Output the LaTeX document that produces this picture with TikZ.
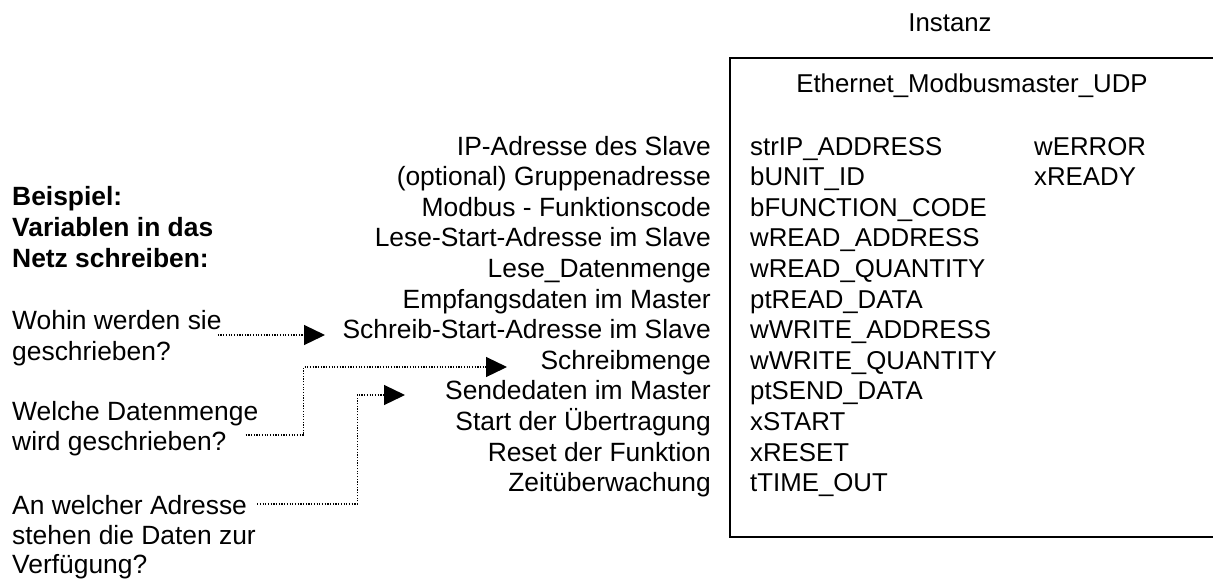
\documentclass[tikz,border=0pt]{standalone}
\usepackage{fontspec}
\setmainfont{Liberation Sans}
\usetikzlibrary{arrows.meta}
\tikzset{
  txt/.style={anchor=base west, inner sep=0pt, font=\fontsize{26.4}{30}\selectfont},
  var/.style={anchor=base west, inner sep=0pt, font=\fontsize{25.8}{30}\selectfont},
  lbl/.style={txt, anchor=base east},
  bold/.style={txt, font=\fontsize{26.4}{30}\selectfont\bfseries},
  hint/.style={line width=1.2pt, dash pattern=on 1.2pt off 1.5pt,
    -{Triangle[length=21pt,width=20pt]}}
}

\begin{document}
\begin{tikzpicture}[x=1pt,y=-1pt]
  \useasboundingbox (0,0) rectangle (1213,579);

  % Baustein
  \node [var, anchor=base] (inst) at (950,31) {Instanz};
  \draw [line width=1.8pt] (730,58) rectangle (1218,537);
  \node [var, anchor=base] (fb) at (972,92) {Ethernet\_Modbusmaster\_UDP};

  % Eingaenge
  \node [var] (v0) at (750,155) {strIP\_ADDRESS};
  \node [var] (v1) at (750,185.6) {bUNIT\_ID};
  \node [var] (v2) at (750,216.2) {bFUNCTION\_CODE};
  \node [var] (v3) at (750,246.8) {wREAD\_ADDRESS};
  \node [var] (v4) at (750,277.4) {wREAD\_QUANTITY};
  \node [var] (v5) at (750,308) {ptREAD\_DATA};
  \node [var] (v6) at (750,338.6) {wWRITE\_ADDRESS};
  \node [var] (v7) at (750,369.2) {wWRITE\_QUANTITY};
  \node [var] (v8) at (750,399.8) {ptSEND\_DATA};
  \node [var] (v9) at (750,430.4) {xSTART};
  \node [var] (v10) at (750,461) {xRESET};
  \node [var] (v11) at (750,491.6) {tTIME\_OUT};

  % Ausgaenge
  \node [var] (o0) at (1034,155) {wERROR};
  \node [var] (o1) at (1034,185.6) {xREADY};

  % Beschreibung
  \node [lbl] (l0) at (711,155) {IP-Adresse des Slave};
  \node [lbl] (l1) at (711,185.6) {(optional) Gruppenadresse};
  \node [lbl] (l2) at (711,216.2) {Modbus - Funktionscode};
  \node [lbl] (l3) at (711,246.8) {Lese-Start-Adresse im Slave};
  \node [lbl] (l4) at (711,277.4) {Lese\_Datenmenge};
  \node [lbl] (l5) at (711,308) {Empfangsdaten im Master};
  \node [lbl] (l6) at (711,338.6) {Schreib-Start-Adresse im Slave};
  \node [lbl] (l7) at (711,369.2) {Schreibmenge};
  \node [lbl] (l8) at (711,399.8) {Sendedaten im Master};
  \node [lbl] (l9) at (711,430.4) {Start der Übertragung};
  \node [lbl] (l10) at (711,461) {Reset der Funktion};
  \node [lbl] (l11) at (711,491.6) {Zeitüberwachung};

  % Beispiel
  \node [bold] (b1) at (12,205) {Beispiel:};
  \node [bold] (b2) at (12,236) {Variablen in das};
  \node [bold] (b3) at (12,267) {Netz schreiben:};

  \node [txt] (q1a) at (12,329) {Wohin werden sie};
  \node [txt] (q1b) at (12,360) {geschrieben?};
  \node [txt] (q2a) at (12,420) {Welche Datenmenge};
  \node [txt] (q2b) at (12,450) {wird geschrieben?};
  \node [txt] (q3a) at (12,514) {An welcher Adresse};
  \node [txt] (q3b) at (12,544) {stehen die Daten zur};
  \node [txt] (q3c) at (12,573) {Verfügung?};

  \coordinate (t1) at (325,335);
  \coordinate (t2) at (507,367);
  \coordinate (t3) at (405,395);

  \draw [hint] ([xshift=-4pt,yshift=-6pt]q1a.base east) -- (t1);
  \draw [hint] ([xshift=19pt,yshift=15pt]q2b.base east) -- ++(58,0) |- (t2);
  \draw [hint] ([xshift=10pt,yshift=10pt]q3a.base east) -- ++(100,0) |- (t3);
\end{tikzpicture}
\end{document}
